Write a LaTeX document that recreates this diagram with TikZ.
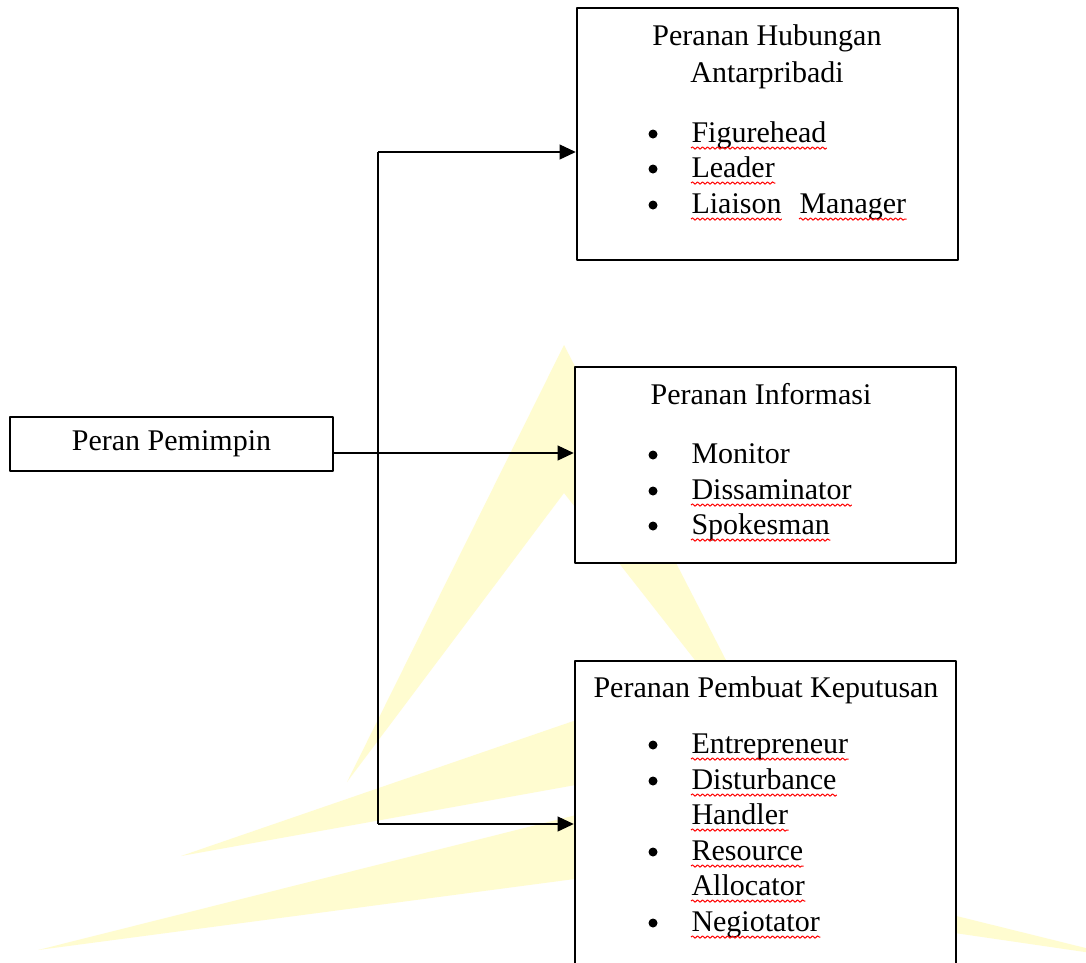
\documentclass[tikz,border=0pt]{standalone}
\usepackage{fontspec}
\setmainfont{Liberation Serif}
\usepackage{tikz}
\usetikzlibrary{arrows.meta,decorations.pathmorphing}
\definecolor{logogelb}{RGB}{255,252,208}

\begin{document}
\begin{tikzpicture}[line join=round,>={Triangle[length=6.5pt,width=6pt]},x=0.4pt,y=-0.4pt,
  kasten/.style={draw=black,line width=1pt,fill=white,inner sep=0pt,font=\fontsize{12}{14}\selectfont},
  zeile/.style={inner sep=0pt,font=\fontsize{12}{14}\selectfont},
  punkt/.style={circle,fill=black,inner sep=0pt,minimum size=3.6pt},
  welle/.style={draw=red,line width=0.4pt,decorate,decoration={snake,amplitude=0.45pt,segment length=2pt}},
  pfeil/.style={line width=0.5pt}]
     \useasboundingbox (0,0) rectangle (1086,962); % Rand
     \fill[white] (0,0) rectangle (1086,962);

     \fill[logogelb] (347,782) -- (564,345) -- (785,775) -- (564,493) -- cycle; % Logo Spitze oben
     \fill[logogelb] (181,856) -- (620,705) -- (620,777) -- cycle;             % Logo links oben
     \fill[logogelb] (38,950) -- (620,804) -- (620,873) -- cycle;              % Logo links unten
     \fill[logogelb] (900,902) -- (1126,958) -- (900,925) -- cycle;            % Logo rechts

     \node[kasten,minimum width=129.2pt,minimum height=21.6pt] (pemimpin) at (171.5,444) {Peran Pemimpin};
     \node[kasten,minimum width=152.4pt,minimum height=100.8pt] (hubungan) at (767.5,134) {};
     \node[kasten,minimum width=152.4pt,minimum height=78.4pt] (informasi) at (765.5,465) {};
     \node[kasten,minimum width=152.4pt,minimum height=135.6pt] (keputusan) at (765.5,830.5) {};

     \coordinate (knick) at (378,453);
     \coordinate (oben) at (378,152);
     \coordinate (unten) at (378,824);
     \draw[pfeil] (pemimpin.east |- knick) -- (knick);
     \draw[pfeil,->] (knick) -- (knick -| informasi.west); % Pfeil mitte
     \draw[pfeil] (oben) -- (unten);
     \draw[pfeil,->] (oben) -- (oben -| hubungan.west);    % Pfeil oben
     \draw[pfeil,->] (unten) -- (unten -| keputusan.west); % Pfeil unten

     \node[zeile,anchor=base] (hubtitel) at (767,45) {Peranan Hubungan};
     \node[zeile,anchor=base] (hubtitelb) at (767,82) {Antarpribadi};
     \node[zeile,anchor=base] (infotitel) at (761,404) {Peranan Informasi};
     \node[zeile,anchor=base] (keptitel) at (766,697) {Peranan Pembuat Keputusan};

     \foreach \y/\wort in {142/Figurehead,177/Leader,213/Liaison,
       463/Monitor,499/Dissaminator,534/Spokesman,
       753/Entrepreneur,789/Disturbance,824/Handler,
       860/Resource,895/Allocator,931/Negiotator}
     \node[zeile,anchor=base west] (w\wort) at (691,\y) {\wort}; % Eintraege
     \node[zeile,anchor=base west] (wManager) at (799,213) {Manager};

     \foreach \y/\n in {142/1,177/2,213/3,463/4,499/5,534/6,753/7,789/8,860/9,931/10}
     \node[punkt] (p\n) at (653,\y-8) {}; % Aufzaehlungspunkte

     \foreach \w in {wFigurehead,wLeader,wLiaison,wManager,wDissaminator,wSpokesman,
       wEntrepreneur,wDisturbance,wHandler,wResource,wAllocator,wNegiotator}
     \draw[welle] ([yshift=-2.4pt]\w.base west) -- ([yshift=-2.4pt]\w.base east); % Rechtschreibwelle

    \end{tikzpicture}
\end{document}
